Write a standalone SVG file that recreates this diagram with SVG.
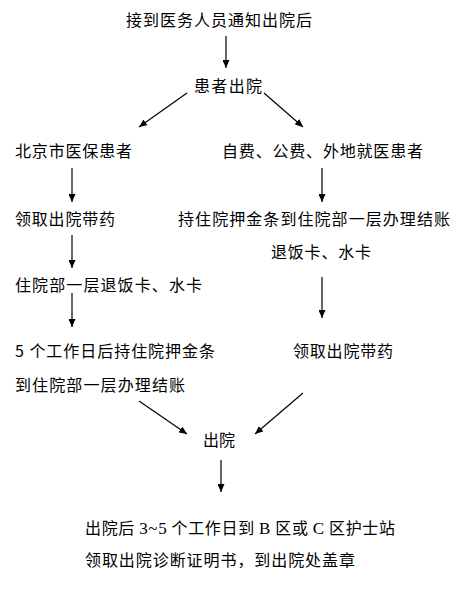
<svg xmlns="http://www.w3.org/2000/svg" width="467" height="592" viewBox="0 0 467 592">
<style>
text{font-family:"Noto Sans CJK SC","Noto Sans",sans-serif;font-size:16px;fill:#000}
.ser{font-family:"Liberation Serif",serif;font-size:17px}
.c{stroke:#000;stroke-width:1.2;fill:none;marker-end:url(#ah)}
</style>
<defs>
<marker id="ah" markerUnits="userSpaceOnUse" markerWidth="9" markerHeight="7" refX="8" refY="3.5" orient="auto">
<path d="M0,0 L8,3.5 L0,7 z" fill="#000"/>
</marker>
</defs>
<rect width="467" height="592" fill="#fff"/>
<g id="connectors">
<line class="c" x1="226" y1="36" x2="226" y2="68"/>
<line class="c" x1="187" y1="93" x2="139" y2="127"/>
<line class="c" x1="264" y1="93" x2="303" y2="127"/>
<line class="c" x1="72" y1="168" x2="72" y2="202"/>
<line class="c" x1="322" y1="168" x2="322" y2="202"/>
<line class="c" x1="72" y1="235" x2="72" y2="268"/>
<line class="c" x1="72" y1="293" x2="72" y2="327"/>
<line class="c" x1="322" y1="277" x2="322" y2="318"/>
<line class="c" x1="139" y1="401" x2="187" y2="434"/>
<line class="c" x1="303" y1="393" x2="255" y2="434"/>
<line class="c" x1="221" y1="460" x2="221" y2="492"/>
</g>
<g id="n1"><text x="126" y="26" textLength="186" lengthAdjust="spacing">接到医务人员通知出院后</text></g>
<g id="n2"><text x="194" y="92" textLength="68" lengthAdjust="spacing">患者出院</text></g>
<g id="n3"><text x="15" y="157" textLength="117" lengthAdjust="spacing">北京市医保患者</text></g>
<g id="n4"><text x="222" y="157" textLength="201" lengthAdjust="spacing">自费、公费、外地就医患者</text></g>
<g id="n5"><text x="15" y="225" textLength="100" lengthAdjust="spacing">领取出院带药</text></g>
<g id="n6"><text x="178" y="225" textLength="272" lengthAdjust="spacing">持住院押金条到住院部一层办理结账</text>
<text x="271" y="258" textLength="100" lengthAdjust="spacing">退饭卡、水卡</text></g>
<g id="n7"><text x="15" y="291" textLength="187" lengthAdjust="spacing">住院部一层退饭卡、水卡</text></g>
<g id="n8"><text x="15" y="357" textLength="200" lengthAdjust="spacing">5 个工作日后持住院押金条</text>
<text x="15" y="391" textLength="170" lengthAdjust="spacing">到住院部一层办理结账</text></g>
<g id="n9"><text x="293" y="357" textLength="100" lengthAdjust="spacing">领取出院带药</text></g>
<g id="n10"><text x="203" y="446" textLength="32" lengthAdjust="spacing">出院</text></g>
<g id="n11"><text x="85" y="534" textLength="310" lengthAdjust="spacing">出院后 <tspan class="ser">3~5</tspan> 个工作日到 <tspan class="ser">B</tspan> 区或 <tspan class="ser">C</tspan> 区护士站</text>
<text x="85" y="566" textLength="270" lengthAdjust="spacing">领取出院诊断证明书，到出院处盖章</text></g>
</svg>
